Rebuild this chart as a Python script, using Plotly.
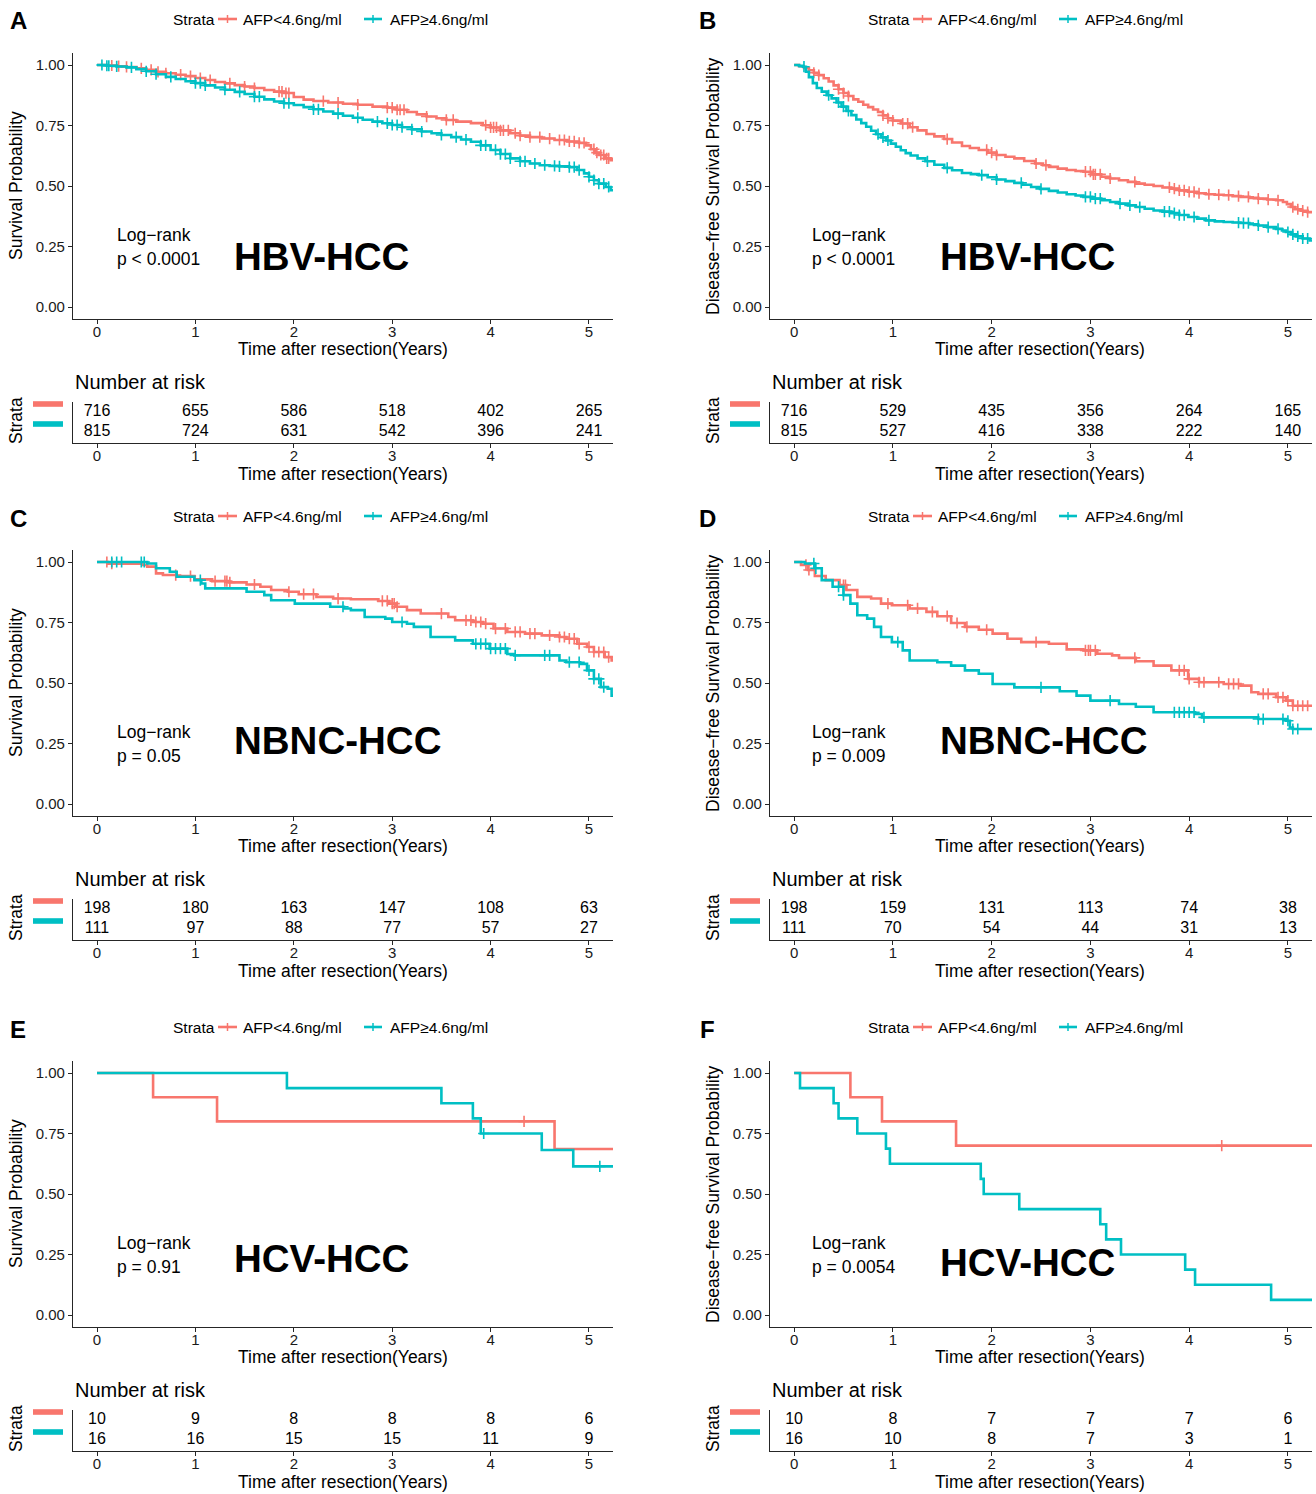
import numpy as np
import plotly.graph_objects as go

W, H = 1316, 1494
RED = '#F8766D'
TEAL = '#00BFC4'
FONT = 'Liberation Sans, Arial, Helvetica, sans-serif'
AXC = '#262626'

# ---------------- data ----------------
years = [0, 1, 2, 3, 4, 5]
risk_rows = [2, 1]

# Panel A (OS, HBV-HCC)
a_low_t = [0.00,0.10,0.20,0.30,0.40,0.50,0.60,0.70,0.80,0.90,1.00,1.10,1.20,1.30,1.40,1.50,1.60,1.70,1.80,1.90,2.00,2.10,2.20,2.35,2.50,2.65,2.80,2.95,3.05,3.15,3.25,3.35,3.45,3.55,3.65,3.80,3.92,4.00,4.10,4.20,4.30,4.40,4.52,4.65,4.78,4.90,4.97,5.02,5.06,5.10,5.16,5.22,5.30]
a_low_s = [1.000,0.998,0.995,0.992,0.986,0.980,0.972,0.966,0.960,0.954,0.946,0.938,0.930,0.924,0.917,0.911,0.905,0.897,0.890,0.884,0.868,0.857,0.851,0.845,0.840,0.836,0.828,0.824,0.815,0.806,0.796,0.787,0.780,0.773,0.766,0.760,0.751,0.742,0.730,0.718,0.708,0.702,0.696,0.690,0.684,0.678,0.668,0.652,0.638,0.628,0.614,0.607,0.607]
a_high_t = [0.00,0.10,0.20,0.30,0.40,0.50,0.60,0.70,0.80,0.90,1.00,1.10,1.20,1.30,1.40,1.50,1.60,1.70,1.80,1.90,2.00,2.10,2.20,2.30,2.40,2.50,2.60,2.70,2.80,2.90,3.00,3.10,3.20,3.30,3.40,3.50,3.60,3.70,3.80,3.90,4.00,4.10,4.20,4.30,4.40,4.50,4.60,4.70,4.80,4.88,4.95,5.00,5.05,5.10,5.17,5.22,5.30]
a_high_s = [1.000,0.997,0.994,0.990,0.983,0.974,0.962,0.951,0.942,0.933,0.925,0.916,0.907,0.898,0.889,0.880,0.869,0.858,0.849,0.842,0.835,0.826,0.817,0.808,0.799,0.790,0.782,0.774,0.766,0.759,0.752,0.743,0.734,0.725,0.718,0.711,0.702,0.692,0.683,0.668,0.649,0.632,0.614,0.602,0.593,0.586,0.583,0.581,0.578,0.566,0.552,0.538,0.524,0.510,0.496,0.483,0.483]
a_low_c = [0.15,0.22,0.30,0.45,0.55,0.62,0.70,0.85,0.95,1.05,1.15,1.35,1.50,1.60,1.85,1.88,1.92,1.95,2.30,2.45,2.65,2.95,3.00,3.05,3.08,3.12,3.35,3.55,3.62,3.95,4.00,4.03,4.06,4.10,4.13,4.18,4.25,4.30,4.40,4.50,4.60,4.70,4.75,4.80,4.85,4.90,4.95,5.05,5.08,5.12,5.15,5.18,5.20]
a_high_c = [0.05,0.10,0.12,0.20,0.35,0.50,0.60,0.75,1.00,1.05,1.10,1.30,1.45,1.60,1.65,1.90,1.95,2.20,2.25,2.45,2.65,2.85,2.95,3.00,3.05,3.10,3.20,3.30,3.50,3.65,3.75,3.90,3.95,4.05,4.10,4.15,4.20,4.30,4.35,4.45,4.55,4.65,4.70,4.80,4.85,4.90,5.00,5.05,5.10,5.15,5.20]
a_risk_low = [716, 655, 586, 518, 402, 265]
a_risk_high = [815, 724, 631, 542, 396, 241]

# Panel B (DFS, HBV-HCC)
b_low_t = [0.00,0.05,0.10,0.15,0.20,0.25,0.30,0.35,0.40,0.45,0.50,0.55,0.60,0.65,0.70,0.75,0.80,0.85,0.90,0.95,1.00,1.08,1.17,1.25,1.34,1.42,1.52,1.60,1.70,1.78,1.87,1.96,2.05,2.14,2.23,2.33,2.44,2.52,2.58,2.67,2.76,2.85,2.93,3.02,3.11,3.20,3.29,3.38,3.46,3.55,3.64,3.73,3.82,3.90,3.99,4.08,4.17,4.26,4.35,4.44,4.52,4.61,4.70,4.79,4.88,4.95,4.99,5.03,5.07,5.13,5.20,5.30]
b_low_s = [1.000,0.995,0.988,0.978,0.968,0.958,0.945,0.932,0.916,0.900,0.884,0.872,0.858,0.848,0.836,0.826,0.816,0.806,0.792,0.780,0.770,0.758,0.743,0.730,0.715,0.705,0.694,0.680,0.665,0.657,0.649,0.638,0.628,0.621,0.614,0.603,0.593,0.586,0.579,0.572,0.566,0.562,0.559,0.548,0.538,0.531,0.524,0.517,0.510,0.505,0.500,0.494,0.489,0.482,0.476,0.470,0.466,0.464,0.462,0.458,0.455,0.451,0.448,0.444,0.441,0.434,0.425,0.413,0.404,0.398,0.392,0.392]
b_high_t = [0.00,0.05,0.09,0.12,0.15,0.19,0.23,0.28,0.33,0.38,0.43,0.48,0.53,0.58,0.63,0.68,0.73,0.78,0.83,0.88,0.93,0.98,1.03,1.08,1.13,1.18,1.25,1.33,1.42,1.52,1.60,1.70,1.79,1.87,1.96,2.05,2.14,2.23,2.31,2.40,2.49,2.58,2.67,2.76,2.85,2.93,3.02,3.11,3.20,3.29,3.38,3.46,3.55,3.64,3.73,3.82,3.90,3.99,4.08,4.17,4.26,4.35,4.44,4.52,4.61,4.70,4.79,4.88,4.94,4.98,5.03,5.08,5.15,5.22,5.30]
b_high_s = [1.000,0.997,0.993,0.972,0.950,0.925,0.905,0.890,0.875,0.862,0.845,0.828,0.810,0.793,0.775,0.760,0.745,0.728,0.714,0.701,0.688,0.675,0.662,0.648,0.636,0.626,0.614,0.602,0.588,0.575,0.565,0.554,0.549,0.545,0.536,0.527,0.520,0.513,0.505,0.496,0.488,0.480,0.473,0.466,0.461,0.455,0.448,0.441,0.434,0.427,0.420,0.413,0.406,0.399,0.394,0.388,0.380,0.372,0.365,0.358,0.354,0.351,0.349,0.347,0.342,0.337,0.330,0.323,0.316,0.310,0.300,0.292,0.283,0.275,0.275]
b_low_c = [0.20,0.25,0.45,0.50,0.55,0.90,0.95,1.00,1.10,1.15,1.20,1.55,1.95,2.00,2.05,2.45,2.55,2.95,3.00,3.03,3.05,3.10,3.20,3.45,3.80,3.85,3.90,3.95,4.00,4.05,4.10,4.20,4.30,4.40,4.50,4.60,4.70,4.80,4.90,5.05,5.10,5.15,5.20]
b_high_c = [0.10,0.35,0.45,0.50,0.55,0.85,0.90,0.95,1.35,1.55,1.90,2.05,2.30,2.50,2.95,3.00,3.05,3.10,3.30,3.40,3.50,3.75,3.80,3.85,3.90,3.95,4.05,4.20,4.50,4.55,4.60,4.70,4.80,4.90,5.00,5.05,5.10,5.15,5.20]
b_risk_low = [716, 529, 435, 356, 264, 165]
b_risk_high = [815, 527, 416, 338, 222, 140]

# Panel C (OS, NBNC-HCC)
c_low_t = [0.00,0.11,0.46,0.51,0.60,0.67,0.81,0.99,1.17,1.34,1.52,1.66,1.77,1.94,2.05,2.23,2.40,2.58,2.86,2.97,3.04,3.15,3.29,3.57,3.64,3.82,3.92,4.03,4.17,4.35,4.52,4.70,4.77,4.88,4.98,5.05,5.16,5.23,5.30]
c_low_s = [1.000,0.993,0.988,0.981,0.953,0.946,0.942,0.928,0.921,0.916,0.907,0.898,0.884,0.877,0.867,0.856,0.849,0.846,0.839,0.828,0.815,0.801,0.787,0.773,0.759,0.752,0.745,0.725,0.711,0.704,0.697,0.690,0.683,0.662,0.649,0.628,0.607,0.593,0.593]
c_high_t = [0.00,0.51,0.60,0.74,0.81,0.99,1.06,1.10,1.45,1.52,1.70,1.77,2.01,2.37,2.51,2.58,2.72,2.93,3.00,3.15,3.22,3.39,3.64,3.82,3.99,4.17,4.24,4.70,4.77,4.91,4.98,5.05,5.12,5.19,5.23,5.30]
c_high_s = [1.000,0.994,0.974,0.960,0.939,0.925,0.911,0.891,0.891,0.877,0.863,0.842,0.828,0.815,0.808,0.801,0.773,0.766,0.752,0.745,0.732,0.690,0.676,0.662,0.642,0.620,0.614,0.593,0.586,0.579,0.552,0.517,0.483,0.476,0.448,0.448]
c_low_c = [0.10,0.15,0.80,0.95,1.20,1.30,1.32,1.35,1.60,1.95,2.10,2.20,2.45,2.90,2.95,3.00,3.02,3.05,3.50,3.75,3.80,3.85,3.90,3.95,4.05,4.15,4.25,4.30,4.40,4.45,4.60,4.70,4.75,4.80,4.85,4.90,5.00,5.05,5.10,5.15,5.20]
c_high_c = [0.15,0.20,0.25,0.45,0.48,1.05,2.50,3.10,3.85,3.90,3.95,4.00,4.05,4.10,4.15,4.25,4.55,4.60,4.80,4.90,5.00,5.05,5.10,5.15]
c_risk_low = [198, 180, 163, 147, 108, 63]
c_risk_high = [111, 97, 88, 77, 57, 27]

# Panel D (DFS, NBNC-HCC)
d_low_t = [0.00,0.07,0.14,0.21,0.32,0.46,0.53,0.64,0.78,0.88,0.99,1.17,1.34,1.45,1.59,1.73,1.87,2.01,2.16,2.30,2.58,2.76,2.93,3.07,3.22,3.29,3.46,3.64,3.82,3.99,4.10,4.35,4.52,4.63,4.70,4.88,4.98,5.05,5.30]
d_low_s = [1.000,0.988,0.967,0.942,0.925,0.905,0.884,0.856,0.849,0.828,0.821,0.808,0.794,0.776,0.748,0.732,0.720,0.704,0.683,0.669,0.662,0.639,0.635,0.621,0.614,0.604,0.590,0.572,0.552,0.517,0.503,0.496,0.489,0.462,0.455,0.441,0.427,0.406,0.406]
d_high_t = [0.00,0.11,0.21,0.28,0.39,0.50,0.57,0.64,0.74,0.81,0.88,0.99,1.10,1.17,1.45,1.59,1.73,1.87,2.01,2.23,2.69,2.86,3.00,3.29,3.46,3.64,4.06,4.13,4.70,4.98,5.02,5.05,5.30]
d_high_s = [1.000,0.994,0.974,0.925,0.898,0.863,0.828,0.780,0.766,0.732,0.690,0.669,0.635,0.593,0.586,0.572,0.552,0.538,0.496,0.482,0.466,0.448,0.427,0.413,0.402,0.379,0.372,0.358,0.351,0.344,0.316,0.310,0.310]
d_low_c = [0.12,0.15,0.50,0.52,0.95,1.15,1.25,1.40,1.55,1.65,1.75,1.95,2.45,2.95,2.98,3.00,3.05,3.45,3.90,3.95,4.00,4.10,4.15,4.30,4.40,4.45,4.50,4.75,4.80,4.90,4.95,5.00,5.05,5.10,5.15,5.20]
d_high_c = [0.20,0.22,0.45,0.50,1.05,2.50,3.20,3.85,3.90,3.95,4.00,4.05,4.15,4.70,4.75,4.95,5.00,5.05,5.10]
d_risk_low = [198, 159, 131, 113, 74, 38]
d_risk_high = [111, 70, 54, 44, 31, 13]

# Panel E (OS, HCV-HCC)
e_low_t = [0.00, 0.57, 1.22, 4.65, 5.30]
e_low_s = [1.000, 0.900, 0.800, 0.686, 0.686]
e_high_t = [0.00, 1.93, 3.50, 3.82, 3.90, 4.52, 4.84, 5.30]
e_high_s = [1.000, 0.9375, 0.875, 0.8125, 0.750, 0.682, 0.614, 0.614]
e_low_c = [4.34]
e_high_c = [3.93, 5.11]
e_risk_low = [10, 9, 8, 8, 8, 6]
e_risk_high = [16, 16, 15, 15, 11, 9]

# Panel F (DFS, HCV-HCC)
f_low_t = [0.00, 0.57, 0.89, 1.64, 5.30]
f_low_s = [1.000, 0.900, 0.800, 0.700, 0.700]
f_high_t = [0.00,0.06,0.40,0.45,0.64,0.93,0.97,1.89,1.92,2.28,3.10,3.16,3.31,3.96,4.06,4.83,5.30]
f_high_s = [1.000,0.9375,0.875,0.8125,0.750,0.6875,0.625,0.5625,0.500,0.4375,0.375,0.3125,0.250,0.1875,0.125,0.0625,0.0625]
f_low_c = [4.33]
f_high_c = []
f_risk_low = [10, 8, 7, 7, 7, 6]
f_risk_high = [16, 10, 8, 7, 3, 1]

strata_labels = ['AFP&lt;4.6ng/ml', 'AFP≥4.6ng/ml']
y_titles = ['Survival Probability', 'Disease−free Survival Probability']
x_title = 'Time after resection(Years)'

panels = [
    dict(letter='A', lt=a_low_t, ls=a_low_s, ht=a_high_t, hs=a_high_s, lc=a_low_c, hc=a_high_c,
         rl=a_risk_low, rh=a_risk_high, yt=y_titles[0], p='p &lt; 0.0001', lab='HBV-HCC', laby=256),
    dict(letter='B', lt=b_low_t, ls=b_low_s, ht=b_high_t, hs=b_high_s, lc=b_low_c, hc=b_high_c,
         rl=b_risk_low, rh=b_risk_high, yt=y_titles[1], p='p &lt; 0.0001', lab='HBV-HCC', laby=256),
    dict(letter='C', lt=c_low_t, ls=c_low_s, ht=c_high_t, hs=c_high_s, lc=c_low_c, hc=c_high_c,
         rl=c_risk_low, rh=c_risk_high, yt=y_titles[0], p='p = 0.05', lab='NBNC-HCC', laby=244),
    dict(letter='D', lt=d_low_t, ls=d_low_s, ht=d_high_t, hs=d_high_s, lc=d_low_c, hc=d_high_c,
         rl=d_risk_low, rh=d_risk_high, yt=y_titles[1], p='p = 0.009', lab='NBNC-HCC', laby=244),
    dict(letter='E', lt=e_low_t, ls=e_low_s, ht=e_high_t, hs=e_high_s, lc=e_low_c, hc=e_high_c,
         rl=e_risk_low, rh=e_risk_high, yt=y_titles[0], p='p = 0.91', lab='HCV-HCC', laby=250),
    dict(letter='F', lt=f_low_t, ls=f_low_s, ht=f_high_t, hs=f_high_s, lc=f_low_c, hc=f_high_c,
         rl=f_risk_low, rh=f_risk_high, yt=y_titles[1], p='p = 0.0054', lab='HCV-HCC', laby=254),
]

# ---------------- layout helpers ----------------
def px(x):
    return x / W

def py(y):
    return 1 - y / H

ROW_OFF = [0, 497, 1008]
COL_OFF = [0, 697]
COL_RIGHT = [613, 1312]
XR = [-0.244, 5.244]

fig = go.Figure()
layout = dict(width=W, height=H, margin=dict(l=0, r=0, t=0, b=0), autosize=False,
              paper_bgcolor='white', plot_bgcolor='white', showlegend=False,
              font=dict(family=FONT, color='black'))
annotations = []
shapes = []

def step_at(t, s, c):
    idx = np.searchsorted(np.array(t), np.array(c, dtype=float), side='right') - 1
    return [s[i] for i in idx]

def ann(text, x, y, size, xanchor='left', bold=False, angle=0, color='black'):
    if bold:
        text = '<b>' + text + '</b>'
    annotations.append(dict(text=text, x=px(x), y=py(y), xref='paper', yref='paper',
                            xanchor=xanchor, yanchor='middle', showarrow=False, textangle=angle,
                            font=dict(family=FONT, size=size, color=color)))

for i, p in enumerate(panels):
    row, col = i // 2, i % 2
    ro, co = ROW_OFF[row], COL_OFF[col]
    L, R = 73 + co, COL_RIGHT[col]
    k1, k2 = 2 * i + 1, 2 * i + 2
    xa1, ya1 = f'x{k1}', f'y{k1}'
    xa2, ya2 = f'x{k2}', f'y{k2}'
    axcommon = dict(showline=True, linecolor=AXC, linewidth=1.3, showgrid=False, zeroline=False,
                    ticks='outside', ticklen=4, tickwidth=1.2, tickcolor=AXC,
                    tickfont=dict(family=FONT, size=15, color='#1a1a1a'))
    xcommon = dict(axcommon, domain=[px(L), px(R)], range=XR, tickvals=years,
                   ticktext=[str(v) for v in years], ticklabelstandoff=-5)
    layout[f'xaxis{k1}'] = dict(xcommon, anchor=ya1)
    layout[f'yaxis{k1}'] = dict(axcommon, domain=[py(319.1 + ro), py(52.9 + ro)], range=[-0.05, 1.05],
                                tickvals=[0, 0.25, 0.5, 0.75, 1.0],
                                ticktext=['0.00', '0.25', '0.50', '0.75', '1.00'], anchor=xa1)
    layout[f'xaxis{k2}'] = dict(xcommon, anchor=ya2)
    layout[f'yaxis{k2}'] = dict(showline=True, linecolor=AXC, linewidth=1.3, showgrid=False, zeroline=False,
                                ticks='', showticklabels=False,
                                domain=[py(443 + ro), py(402 + ro)], range=[0.45, 2.5], anchor=xa2)

    # KM curves
    for t, s, c, colr in [(p['lt'], p['ls'], p['lc'], RED), (p['ht'], p['hs'], p['hc'], TEAL)]:
        fig.add_trace(go.Scatter(x=t, y=s, mode='lines', line=dict(shape='hv', color=colr, width=2.6),
                                 xaxis=xa1, yaxis=ya1, hoverinfo='skip'))
        if len(c):
            fig.add_trace(go.Scatter(x=c, y=step_at(t, s, c), mode='markers',
                                     marker=dict(symbol='cross-thin', size=8, color=colr,
                                                 line=dict(color=colr, width=1.6)),
                                     xaxis=xa1, yaxis=ya1, hoverinfo='skip'))
    # risk table numbers
    for vals, rr in [(p['rl'], 2), (p['rh'], 1)]:
        fig.add_trace(go.Scatter(x=years, y=[rr] * len(years), mode='text',
                                 text=[str(v) for v in vals],
                                 textfont=dict(family=FONT, size=16, color='black'),
                                 textposition='middle center', xaxis=xa2, yaxis=ya2, hoverinfo='skip'))

    # panel letter
    ann(p['letter'], 18 if col == 0 else 707, 21 + ro, 24, xanchor='center', bold=True)
    # legend
    lo = 0 if col == 0 else 695
    ly = 19 + ro
    ann('Strata', 171 + lo, ly, 15.5)
    for (x0, x1, tx, colr, lab) in [(218, 237, 241, RED, strata_labels[0]),
                                    (364, 382, 388, TEAL, strata_labels[1])]:
        shapes.append(dict(type='line', xref='paper', yref='paper', x0=px(x0 + lo), x1=px(x1 + lo),
                           y0=py(ly), y1=py(ly), line=dict(color=colr, width=2.6)))
        xm = (x0 + x1) / 2 + lo
        shapes.append(dict(type='line', xref='paper', yref='paper', x0=px(xm), x1=px(xm),
                           y0=py(ly - 4), y1=py(ly + 4), line=dict(color=colr, width=1.5)))
        ann(lab, tx + lo, ly, 15.5)
    # axis titles
    ycx = 16 if col == 0 else 713
    xmid = 343 if col == 0 else 1040
    ann(p['yt'], ycx, 186 + ro, 17.5, xanchor='center', angle=-90)
    ann(x_title, xmid, 349 + ro, 17.5, xanchor='center')
    # log-rank
    lrx = 115 + (0 if col == 0 else 695)
    ann('Log−rank', lrx, 235 + ro, 17.5)
    ann(p['p'], lrx, 259 + ro, 17.5)
    ann(p['lab'], (232 if col == 0 else 938), p['laby'] + ro, 38.5, bold=True)
    # risk table
    ann('Number at risk', L, 382 + ro, 20)
    ann(x_title, xmid, 474 + ro, 17.5, xanchor='center')
    ann('Strata', ycx, 421 + ro, 17.5, xanchor='center', angle=-90)
    bx0 = 33 if col == 0 else 730
    for yb, colr in [(404, RED), (424, TEAL)]:
        shapes.append(dict(type='rect', xref='paper', yref='paper', x0=px(bx0), x1=px(bx0 + 30),
                           y0=py(yb + ro + 2.8), y1=py(yb + ro - 2.8), line=dict(width=0), fillcolor=colr))

layout['annotations'] = annotations
layout['shapes'] = shapes
fig.update_layout(**layout)
fig.write_html('out.html', config={'displayModeBar': False},
               post_script="document.body.style.margin='0px';")
